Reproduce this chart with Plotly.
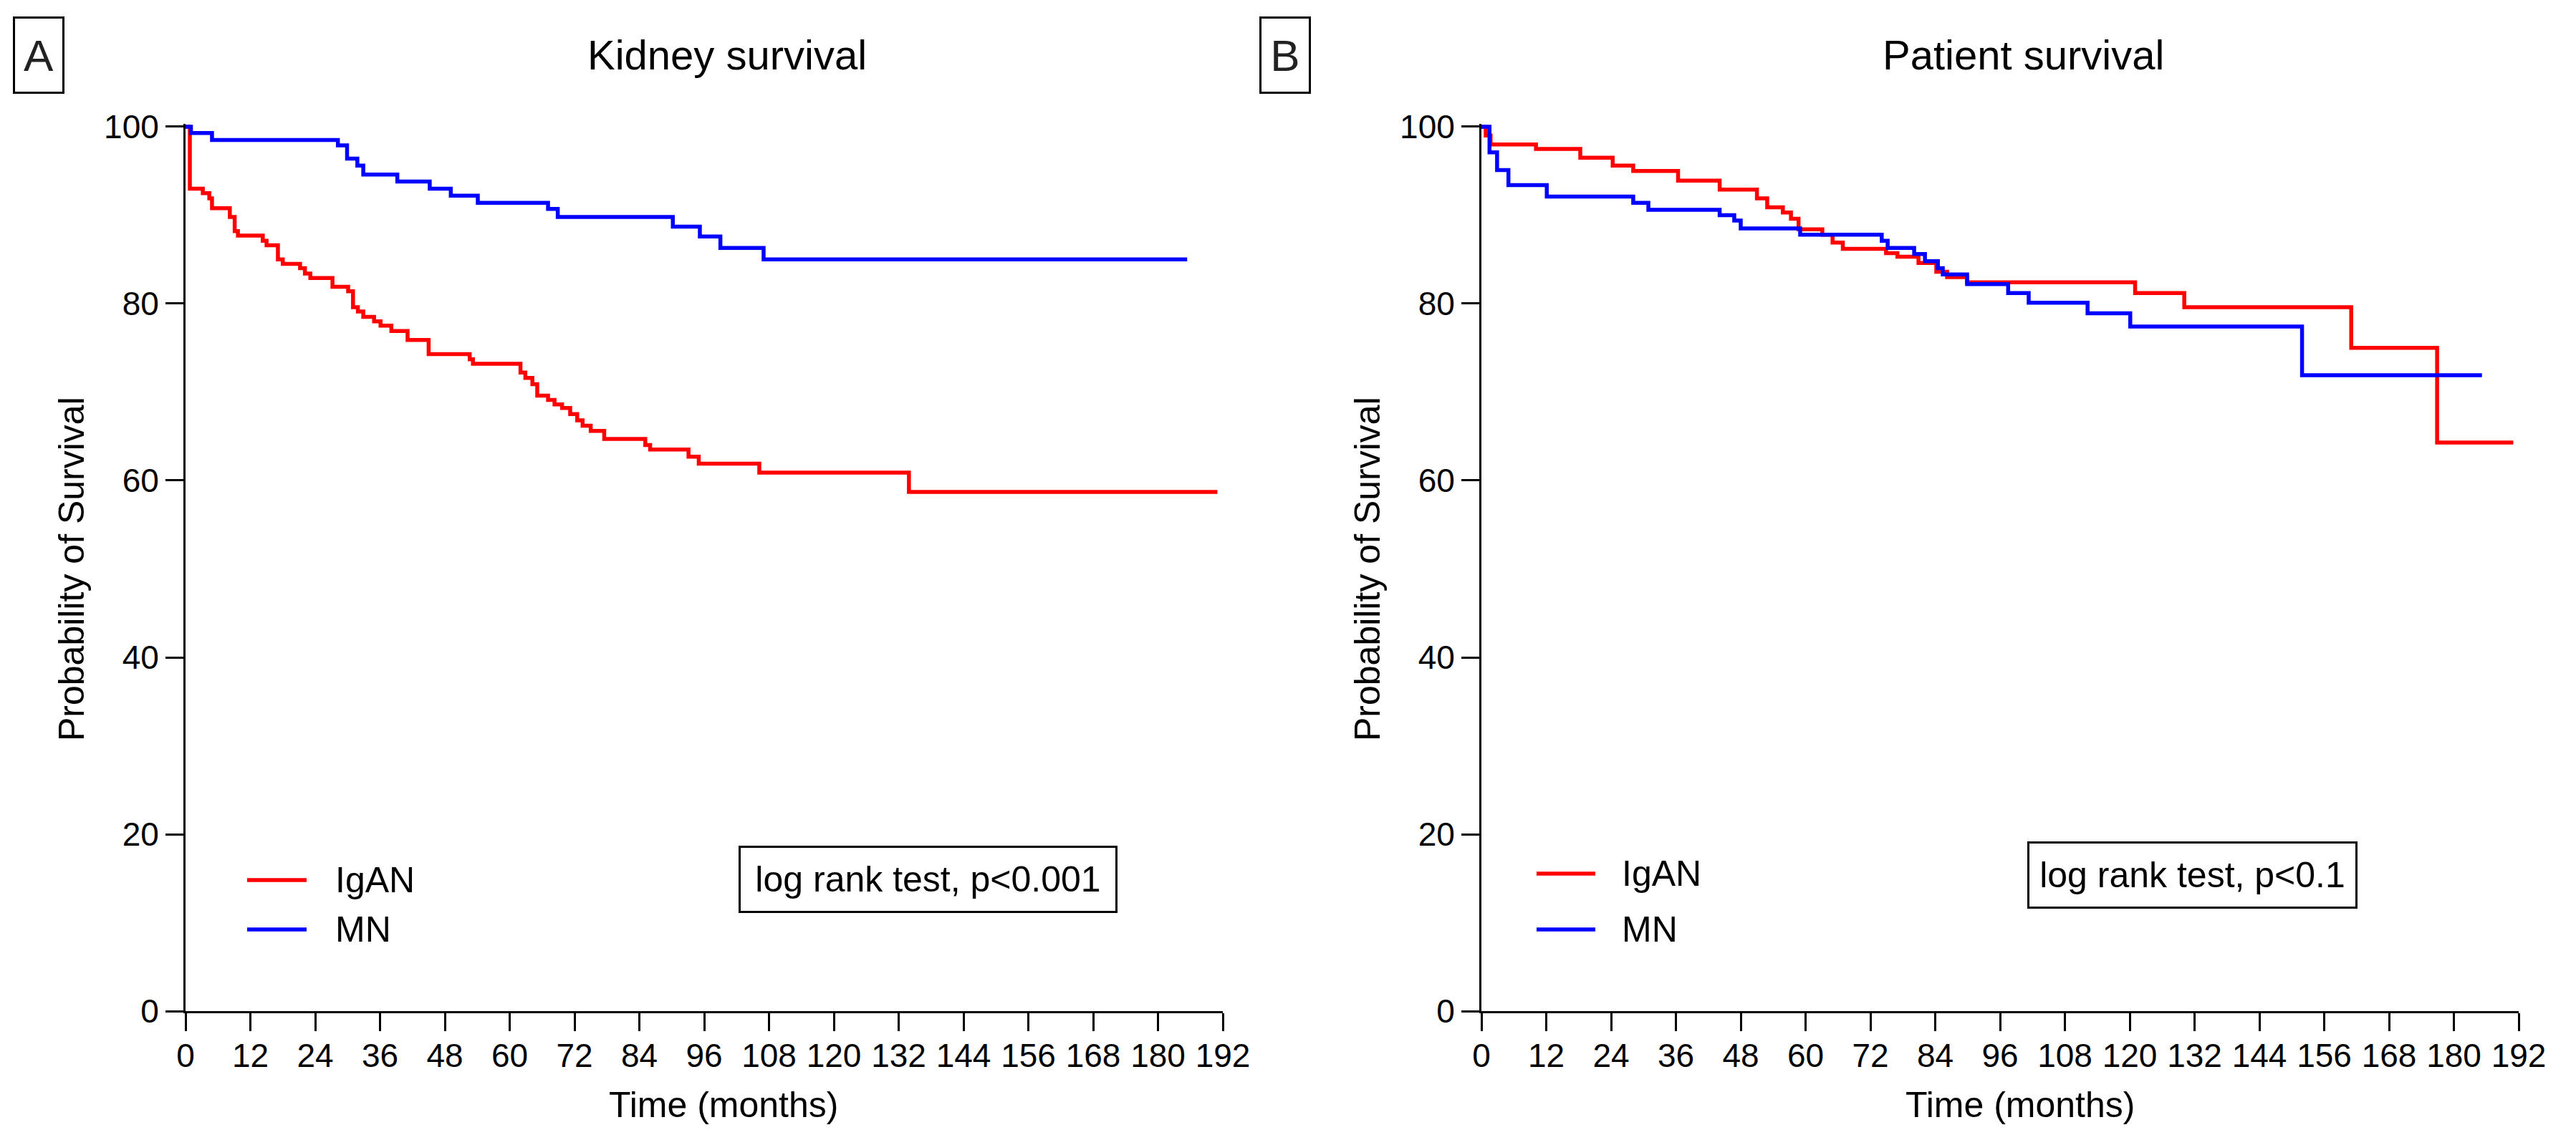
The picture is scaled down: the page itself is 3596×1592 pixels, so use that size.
import plotly.graph_objects as go

# ---------------- data ----------------
months_ticks = list(range(0, 193, 12))
surv_ticks = [0, 20, 40, 60, 80, 100]

kidney_igan_t = [0, 0.8, 3.2, 4.4, 4.9, 8.2, 9.1, 9.7, 14.3, 15.0, 17.1, 18.0, 21.2, 22.1, 23.1,
                 27.2, 30.1, 31.0, 31.9, 32.9, 34.9, 36.1, 38.1, 41.1, 45.0, 52.6, 53.2, 62.0,
                 62.9, 64.2, 65.1, 67.1, 68.3, 69.7, 71.2, 72.5, 73.5, 75.0, 77.5, 85.1, 86.0,
                 93.1, 95.0, 106.2, 133.9, 191.0]
kidney_igan_s = [100, 93.0, 92.5, 91.9, 90.8, 89.8, 88.2, 87.7, 87.1, 86.6, 85.0, 84.5, 84.0, 83.4,
                 82.9, 81.9, 81.4, 79.6, 79.1, 78.5, 78.0, 77.5, 76.9, 75.9, 74.3, 73.7, 73.2,
                 72.2, 71.6, 70.9, 69.6, 69.1, 68.6, 68.2, 67.5, 66.8, 66.2, 65.6, 64.7, 64.0,
                 63.5, 62.7, 61.9, 60.9, 58.7, 58.7]

kidney_mn_t = [0, 1.0, 4.9, 28.2, 29.9, 31.8, 32.9, 39.2, 45.2, 49.1, 54.1, 67.1, 68.9, 90.2,
               95.2, 99.0, 107.0, 185.4]
kidney_mn_s = [100, 99.3, 98.5, 97.9, 96.4, 95.6, 94.6, 93.8, 93.0, 92.2, 91.4, 90.7, 89.8, 88.7,
               87.6, 86.3, 85.0, 85.0]

patient_igan_t = [0, 0.8, 1.7, 10.1, 18.3, 24.3, 28.1, 36.4, 44.1, 51.0, 52.9, 55.8, 57.3, 58.7,
                  63.1, 65.0, 66.9, 74.9, 77.0, 80.9, 84.2, 86.2, 89.9, 121.0, 130.1, 161.0,
                  176.9, 191.0]
patient_igan_s = [100, 99.0, 98.0, 97.5, 96.5, 95.6, 95.0, 93.9, 92.9, 91.9, 90.9, 90.3, 89.6,
                  88.4, 87.8, 86.9, 86.2, 85.7, 85.3, 84.6, 83.6, 83.0, 82.4, 81.2, 79.6, 75.0,
                  64.3, 64.3]

patient_mn_t = [0, 1.5, 2.9, 5.0, 12.1, 28.1, 30.9, 44.1, 46.8, 48.0, 59.0, 74.1, 75.2, 80.1,
                82.1, 84.5, 85.4, 89.9, 97.5, 101.3, 112.2, 120.1, 151.9, 185.2]
patient_mn_s = [100, 97.1, 95.1, 93.4, 92.1, 91.4, 90.6, 90.0, 89.4, 88.5, 87.8, 87.1, 86.3,
                85.6, 84.8, 84.0, 83.3, 82.2, 81.2, 80.1, 78.9, 77.4, 71.9, 71.9]

group_names = ["IgAN", "MN"]
group_colors = ["#FF0000", "#0000FF"]
panel_titles = ["Kidney survival", "Patient survival"]
panel_letters = ["A", "B"]
test_texts = ["log rank test, p<0.001", "log rank test, p<0.1"]
x_title = "Time (months)"
y_title = "Probability of Survival"

# ---------------- layout helpers ----------------
W, H = 3596, 1592
FONT = "Liberation Sans, Arial, Helvetica, sans-serif"


def px(x):
    return x / W


def py(y):
    return 1 - y / H


fig = go.Figure()

series = [
    ("x", "y", kidney_igan_t, kidney_igan_s, 0),
    ("x", "y", kidney_mn_t, kidney_mn_s, 1),
    ("x2", "y2", patient_igan_t, patient_igan_s, 0),
    ("x2", "y2", patient_mn_t, patient_mn_s, 1),
]
for xa, ya, t, s, g in series:
    fig.add_trace(go.Scatter(
        x=t, y=s, xaxis=xa, yaxis=ya, mode="lines", line_shape="hv",
        line=dict(color=group_colors[g], width=5.5), name=group_names[g], showlegend=False,
        hoverinfo="skip"))

y_top = 100.3
y_dom = [py(1412), py(1412 - 12.35 * y_top)]
axis_common = dict(showline=True, linecolor="black", linewidth=3, ticks="outside",
                   ticklen=25, tickwidth=3, tickcolor="black", showgrid=False,
                   zeroline=False, automargin=False,
                   tickfont=dict(family=FONT, size=46, color="black"))

fig.update_layout(
    width=W, height=H, autosize=False,
    margin=dict(l=0, r=0, t=0, b=0, pad=0),
    paper_bgcolor="white", plot_bgcolor="white",
    font=dict(family=FONT, color="black"),
    xaxis=dict(domain=[px(259), px(1707)], range=[0, 192], tickvals=months_ticks,
               anchor="y", ticklabelstandoff=-5, **axis_common),
    yaxis=dict(domain=y_dom, range=[0, y_top], tickvals=surv_ticks, anchor="x", **axis_common),
    xaxis2=dict(domain=[px(2068), px(3516)], range=[0, 192], tickvals=months_ticks,
                anchor="y2", ticklabelstandoff=-5, **axis_common),
    yaxis2=dict(domain=y_dom, range=[0, y_top], tickvals=surv_ticks, anchor="x2",
                **axis_common),
)

annotations = []
shapes = []

panel_cfg = [
    dict(title_x=1015, xt_x=1010, yt_x=100, letter_x=54, box_x=1295, box_w=529,
         box_y=1228, leg_x0=345, leg_x1=428, leg_tx=466, leg_y=[1229, 1298]),
    dict(title_x=2824, xt_x=2820, yt_x=1909, letter_x=1794, box_x=3060, box_w=461,
         box_y=1222, leg_x0=2145, leg_x1=2227, leg_tx=2262, leg_y=[1220, 1298]),
]

for i, c in enumerate(panel_cfg):
    annotations.append(dict(text=panel_titles[i], x=px(c["title_x"]), y=py(76), xref="paper",
                            yref="paper", showarrow=False, xanchor="center", yanchor="middle",
                            font=dict(family=FONT, size=58, color="black")))
    annotations.append(dict(text=panel_letters[i], x=px(c["letter_x"]), y=py(77), xref="paper",
                            yref="paper", showarrow=False, xanchor="center", yanchor="middle",
                            font=dict(family=FONT, size=62, color="#222222"),
                            width=62, height=98, borderpad=2, bordercolor="black",
                            borderwidth=3, bgcolor="white"))
    annotations.append(dict(text=x_title, x=px(c["xt_x"]), y=py(1543), xref="paper",
                            yref="paper", showarrow=False, xanchor="center", yanchor="middle",
                            font=dict(family=FONT, size=50, color="black")))
    annotations.append(dict(text=y_title, x=px(c["yt_x"]), y=py(795), xref="paper",
                            yref="paper", showarrow=False, xanchor="center", yanchor="middle",
                            textangle=-90, font=dict(family=FONT, size=50, color="black")))
    annotations.append(dict(text=test_texts[i], x=px(c["box_x"]), y=py(c["box_y"]),
                            xref="paper", yref="paper", showarrow=False, xanchor="center",
                            yanchor="middle", font=dict(family=FONT, size=50, color="black"),
                            width=c["box_w"] - 10, height=84, borderpad=2,
                            bordercolor="black", borderwidth=3, bgcolor="white"))
    for g in range(2):
        ly = c["leg_y"][g]
        shapes.append(dict(type="line", xref="paper", yref="paper", x0=px(c["leg_x0"]),
                           x1=px(c["leg_x1"]), y0=py(ly), y1=py(ly),
                           line=dict(color=group_colors[g], width=5.5)))
        annotations.append(dict(text=group_names[g], x=px(c["leg_tx"]), y=py(ly),
                                xref="paper", yref="paper", showarrow=False, xanchor="left",
                                yanchor="middle",
                                font=dict(family=FONT, size=50, color="black")))

fig.update_layout(annotations=annotations, shapes=shapes)

page_fix = ("document.documentElement.style.margin='0';document.documentElement.style.padding='0';"
            "document.body.style.margin='0';document.body.style.padding='0';"
            "document.body.style.overflow='hidden';")
fig.write_html("out.html", post_script=page_fix,
               config={"responsive": False, "displayModeBar": False})
